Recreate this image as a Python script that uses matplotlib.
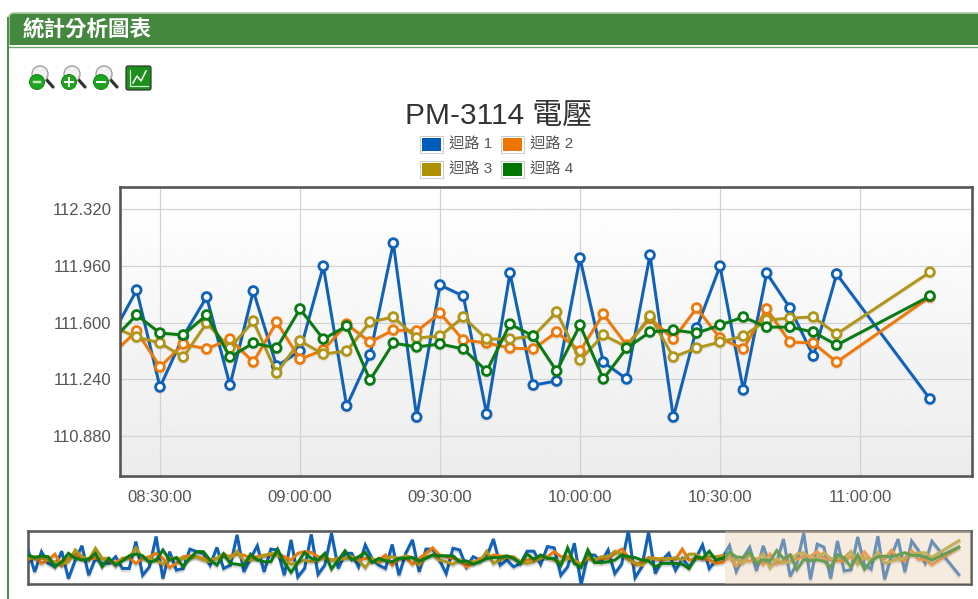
import numpy as np
import matplotlib
matplotlib.use("Agg")
import matplotlib.pyplot as plt
import matplotlib.patheffects as pe
from matplotlib.patches import Circle, Rectangle, FancyBboxPatch
from matplotlib.ticker import FixedLocator, FuncFormatter

plt.rcParams['font.family'] = ['Liberation Sans', 'Noto Sans CJK TC', 'DejaVu Sans']

TITLE = "PM-3114 電壓"
HEADER = "統計分析圖表"
SERIES_NAMES = ["迴路 1", "迴路 2", "迴路 3", "迴路 4"]
COLORS = ["#0f62b8", "#ee7a0a", "#b0961a", "#0a7a12"]
SWATCH = ["#005cb9", "#ee7600", "#af9000", "#007600"]

# minutes after midnight for the zoomed range: 08:20 ... 10:55, then 11:15
times = [500, 505, 510, 515, 520, 525, 530, 535, 540, 545, 550, 555, 560, 565, 570, 575,
         580, 585, 590, 595, 600, 605, 610, 615, 620, 625, 630, 635, 640, 645, 650, 655, 675]

loop1 = [111.533, 111.806, 111.191, 111.514, 111.762, 111.203, 111.800, 111.324, 111.419, 111.958, 111.070,
         111.394, 112.104, 111.000, 111.838, 111.768, 111.019, 111.914, 111.203, 111.229, 112.009, 111.349,
         111.242, 112.028, 111.000, 111.565, 111.958, 111.172, 111.914, 111.692, 111.387, 111.908, 111.115]
loop2 = [111.406, 111.546, 111.318, 111.464, 111.432, 111.495, 111.349, 111.603, 111.368, 111.425, 111.590,
         111.476, 111.552, 111.546, 111.660, 111.489, 111.470, 111.438, 111.432, 111.540, 111.419, 111.654,
         111.457, 111.628, 111.495, 111.692, 111.502, 111.432, 111.686, 111.476, 111.470, 111.349, 111.762]
loop3 = [111.571, 111.508, 111.470, 111.381, 111.597, 111.438, 111.609, 111.280, 111.483, 111.400, 111.419,
         111.603, 111.635, 111.502, 111.514, 111.635, 111.495, 111.495, 111.514, 111.667, 111.362, 111.521,
         111.445, 111.641, 111.381, 111.438, 111.476, 111.514, 111.616, 111.628, 111.635, 111.527, 111.920]
loop4 = [111.495, 111.648, 111.533, 111.521, 111.648, 111.381, 111.470, 111.438, 111.686, 111.495, 111.578,
         111.235, 111.470, 111.445, 111.464, 111.432, 111.292, 111.590, 111.514, 111.292, 111.584, 111.242,
         111.438, 111.540, 111.552, 111.533, 111.584, 111.635, 111.571, 111.571, 111.540, 111.457, 111.768]

# earlier samples, only visible in the overview strip (5 min apart, ending just before 08:20)
hist1 = [111.70, 111.18, 111.66, 111.38, 111.30, 111.67, 111.02, 111.46, 111.80, 111.10, 111.50, 111.38, 111.38,
         111.54, 111.26, 111.26, 111.90, 111.10, 111.30, 112.02, 111.02, 111.66, 111.22, 111.26, 111.72, 111.66,
         111.62, 111.34, 111.76, 111.26, 111.34, 112.06, 111.18, 111.50, 111.80, 111.18, 111.72, 111.70, 111.10,
         111.94, 111.06, 111.26, 112.07, 111.12, 111.34, 112.10, 111.26, 111.62, 111.62, 111.30, 111.82, 111.50,
         111.34, 111.26, 111.83, 111.10, 111.62, 111.94, 111.18, 111.72, 111.72, 111.46, 111.14, 111.74, 111.70,
         111.30, 111.54, 111.46, 111.54, 111.96, 111.34, 111.46, 111.30, 111.38, 111.67, 111.67, 111.36, 111.78,
         111.75, 111.10, 111.30, 111.86, 110.88, 111.58, 111.58, 111.42, 111.70, 111.14, 111.36, 112.15, 111.04,
         111.30, 112.12, 111.14, 111.46, 111.62, 111.22, 111.50, 111.30, 111.50, 111.82, 111.26, 111.46]
hist2 = [111.46, 111.54, 111.38, 111.46, 111.60, 111.33, 111.50, 111.60, 111.50, 111.50, 111.50, 111.50, 111.44,
         111.40, 111.50, 111.52, 111.38, 111.50, 111.54, 111.62, 111.50, 111.28, 111.38, 111.54, 111.56, 111.54,
         111.50, 111.46, 111.50, 111.54, 111.56, 111.60, 111.58, 111.50, 111.54, 111.58, 111.58, 111.62, 111.54,
         111.46, 111.62, 111.66, 111.64, 111.54, 111.50, 111.46, 111.50, 111.50, 111.54, 111.46, 111.50, 111.46,
         111.46, 111.58, 111.34, 111.50, 111.52, 111.36, 111.50, 111.62, 111.75, 111.58, 111.54, 111.50, 111.46,
         111.30, 111.38, 111.50, 111.50, 111.58, 111.56, 111.54, 111.50, 111.42, 111.46, 111.50, 111.54, 111.54,
         111.66, 111.54, 111.54, 111.46, 111.36, 111.50, 111.46, 111.50, 111.50, 111.62, 111.72, 111.54, 111.34,
         111.42, 111.52, 111.50, 111.46, 111.50, 111.48, 111.72, 111.46, 111.50, 111.50, 111.46, 111.38]
hist3 = [111.50, 111.50, 111.50, 111.46, 111.42, 111.36, 111.42, 111.70, 111.54, 111.46, 111.74, 111.50, 111.50,
         111.33, 111.50, 111.52, 111.75, 111.50, 111.50, 111.46, 111.36, 111.50, 111.50, 111.50, 111.50, 111.54,
         111.46, 111.42, 111.50, 111.62, 111.50, 111.67, 111.44, 111.46, 111.50, 111.56, 111.62, 111.58, 111.46,
         111.36, 111.40, 111.46, 111.42, 111.46, 111.54, 111.46, 111.46, 111.50, 111.52, 111.46, 111.28, 111.50,
         111.40, 111.50, 111.54, 111.50, 111.56, 111.52, 111.34, 111.54, 111.58, 111.46, 111.42, 111.36, 111.46,
         111.40, 111.42, 111.42, 111.67, 111.38, 111.46, 111.54, 111.54, 111.42, 111.38, 111.42, 111.50, 111.54,
         111.46, 111.42, 111.50, 111.46, 111.34, 111.54, 111.46, 111.54, 111.54, 111.67, 111.60, 111.46, 111.40,
         111.33, 111.50, 111.48, 111.50, 111.48, 111.52, 111.46, 111.60, 111.60, 111.50, 111.54, 111.54]
hist4 = [111.58, 111.52, 111.56, 111.54, 111.30, 111.42, 111.62, 111.50, 111.46, 111.48, 111.62, 111.30, 111.50,
         111.34, 111.44, 111.56, 111.60, 111.56, 111.40, 111.46, 111.70, 111.46, 111.52, 111.30, 111.50, 111.66,
         111.66, 111.46, 111.34, 111.60, 111.38, 111.36, 111.33, 111.60, 111.46, 111.42, 111.42, 111.72, 111.40,
         111.17, 111.40, 111.64, 111.50, 111.46, 111.62, 111.25, 111.46, 111.68, 111.46, 111.54, 111.64, 111.40,
         111.50, 111.44, 111.42, 111.50, 111.50, 111.52, 111.44, 111.50, 111.58, 111.56, 111.56, 111.56, 111.42,
         111.44, 111.36, 111.42, 111.50, 111.52, 111.52, 111.56, 111.50, 111.38, 111.60, 111.48, 111.58, 111.50,
         111.50, 111.33, 111.75, 111.38, 111.28, 111.70, 111.40, 111.40, 111.42, 111.46, 111.58, 111.54, 111.52,
         111.46, 111.44, 111.30, 111.38, 111.38, 111.38, 111.36, 111.26, 111.54, 111.50, 111.67, 111.46]
y_ticks = [110.88, 111.24, 111.60, 111.96, 112.32]
x_ticks = [510, 540, 570, 600, 630, 660]
selection = (501.43, 684.0)

W, H = 979, 599
fig = plt.figure(figsize=(W / 100, H / 100), dpi=100, facecolor="white")
PX = 72 / 100


def box(l, t, r, b, **kw):
    return fig.add_axes([l / W, 1 - b / H, (r - l) / W, (b - t) / H], **kw)


# page furniture in pixel coordinates
page = fig.add_axes([0, 0, 1, 1], zorder=0)
page.set_xlim(0, W)
page.set_ylim(H, 0)
page.axis("off")
page.add_patch(FancyBboxPatch((9, 13), 985, 50, boxstyle="round,pad=0,rounding_size=5",
                              fc="#44873e", ec="#a9cba6", lw=1.2))
page.add_patch(Rectangle((0, 45), W, 300, fc="white", ec="none", zorder=1))
page.plot([9, W], [47.2, 47.2], color="#6fa46a", lw=1.4 * PX, zorder=2)
page.plot([8.2, 8.2], [18, H], color="#4c8f47", lw=2 * PX, zorder=2)
page.text(23, 30, HEADER, color="white", fontsize=15.5, fontweight="bold", va="center", ha="left",
          family=['Noto Sans CJK TC', 'DejaVu Sans'])


def lens(cx, cy, mark):
    page.plot([cx + 5, cx + 13], [cy - 1, cy + 8], color="#333333", lw=3.2 * PX, zorder=3, solid_capstyle="round")
    page.add_patch(Circle((cx, cy - 5), 8, fc="#f2f2f2", ec="#a0a0a0", lw=1.4 * PX, zorder=3))
    page.add_patch(Circle((cx - 3, cy + 3), 7.5, fc="#1ea51e", ec="#0b780b", lw=0.8 * PX, zorder=4))
    if mark == "+":
        page.plot([cx - 7, cx + 1], [cy + 3, cy + 3], color="white", lw=2 * PX, zorder=5)
        page.plot([cx - 3, cx - 3], [cy - 1, cy + 7], color="white", lw=2 * PX, zorder=5)
    elif mark == "-":
        page.plot([cx - 7, cx + 1], [cy + 3, cy + 3], color="white", lw=2 * PX, zorder=5)
    else:
        page.plot([cx - 6, cx], [cy + 3, cy + 3], color="#bfe8bf", lw=2.5 * PX, zorder=5)


lens(40, 79, "100")
lens(72, 79, "+")
lens(104, 79, "-")
page.add_patch(FancyBboxPatch((126, 66), 25, 24, boxstyle="round,pad=0,rounding_size=2",
                              fc="#1c8f1c", ec="#333333", lw=1.2 * PX, zorder=3))
page.plot([130, 130, 148], [70, 86, 86], color="#d8f2d8", lw=1.2 * PX, zorder=4)
page.plot([133, 137, 141, 146], [83, 76, 81, 71], color="white", lw=1.5 * PX, zorder=4)

# title and legend
page.text(499, 116, TITLE, fontsize=21.5, color="#333333", ha="center", va="center", zorder=3)
legend_cells = [(421, 136), (502, 136), (421, 161), (502, 161)]
for (lx, ly), name, col in zip(legend_cells, SERIES_NAMES, SWATCH):
    page.add_patch(Rectangle((lx - 0.5, ly), 23, 16.5, fc="white", ec="#cccccc", lw=1 * PX, zorder=3))
    page.add_patch(Rectangle((lx + 1.5, ly + 2), 19, 12.5, fc=col, ec="none", zorder=4))
    page.text(lx + 28, ly + 8.5, name, fontsize=11, color="#555555", ha="left", va="center", zorder=3)

# main chart
ax = box(120, 187, 972, 476, zorder=2)
ax.imshow(np.linspace(1, 0.925, 256)[:, None], cmap="gray", vmin=0, vmax=1, aspect="auto",
          extent=(0, 1, 0, 1), transform=ax.transAxes, zorder=0)
ax.set_xlim(*selection)
ax.set_ylim(110.626, 112.46)
ax.xaxis.set_major_locator(FixedLocator(x_ticks))
ax.yaxis.set_major_locator(FixedLocator(y_ticks))
ax.xaxis.set_major_formatter(FuncFormatter(lambda v, _: f"{int(v) // 60:02d}:{int(v) % 60:02d}:00"))
ax.yaxis.set_major_formatter(FuncFormatter(lambda v, _: f"{v:.3f}"))
ax.grid(True, color="#d2d2d2", lw=1.2 * PX, zorder=1)
ax.set_axisbelow(True)
ax.tick_params(length=0, labelsize=12, labelcolor="#555555", pad=6)
ax.tick_params(axis="x", pad=10)
for s in ax.spines.values():
    s.set_color("#555555")
    s.set_linewidth(2.6 * PX)
    s.set_zorder(10)
for vals, col in zip([loop1, loop2, loop3, loop4], COLORS):
    ax.plot(times, vals, color=col, lw=3 * PX, marker="o", ms=8.8 * PX, mfc="white", mec=col, mew=2.8 * PX,
            solid_joinstyle="miter", zorder=4,
            path_effects=[pe.SimpleLineShadow(offset=(0, -1.2), shadow_color="k", alpha=0.06), pe.Normal()])

# overview
ov = box(28, 531, 971, 584, zorder=2)
hist_t = [500 - 5 * (len(hist1) - i) for i in range(len(hist1))]
all_t = hist_t + times
for h, vals, col in zip([hist1, hist2, hist3, hist4], [loop1, loop2, loop3, loop4], COLORS):
    ov.plot(all_t, h + vals, color=col, lw=3 * PX, solid_joinstyle="miter", zorder=3,
            path_effects=[pe.SimpleLineShadow(offset=(0, -1.8), shadow_color="k", alpha=0.1),
                          pe.SimpleLineShadow(offset=(0, -1.0), shadow_color="k", alpha=0.08), pe.Normal()])
ov.set_xlim(all_t[0], selection[1])
ov.set_ylim(110.89, 112.15)
ov.set_xticks([])
ov.set_yticks([])
for s in ov.spines.values():
    s.set_color("#5a5a5a")
    s.set_linewidth(2.6 * PX)
ov.axvspan(selection[0], selection[1], fc="#e8d2b4", alpha=0.42, ec="none", zorder=6)

fig.savefig("out.png", dpi=100, facecolor="white")
